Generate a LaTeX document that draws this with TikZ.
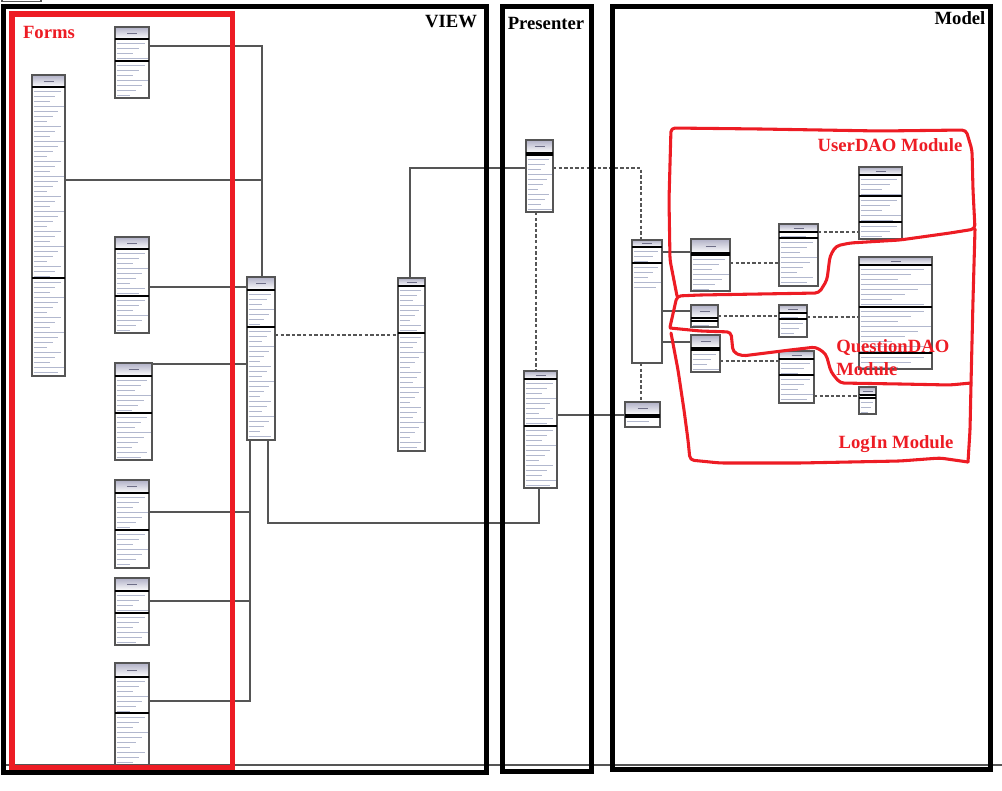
\documentclass[tikz,border=0pt]{standalone}
\usepackage{fontspec}
\setmainfont{Liberation Serif}
\usetikzlibrary{fit}
\definecolor{hdrtop}{RGB}{176,176,198}
\definecolor{boxgray}{RGB}{85,85,85}
\definecolor{txtc}{RGB}{178,184,206}
\definecolor{ttlc}{RGB}{110,110,135}
\definecolor{redc}{RGB}{237,28,36}

\newcommand\clsrows[4]{%
  \pgfmathsetmacro\rA{#3+4}%
  \pgfmathsetmacro\rE{#4-2}%
  \pgfmathsetmacro\rB{\rA+5}%
  \ifdim\rE pt<\rA pt\relax\else
    \ifdim\rE pt<\rB pt\relax
      \draw[txt] (#1+1.5,\rA) -- ++({(#2-#1-3)*0.7},0);
    \else
      \foreach \yy [count=\k] in {\rA,\rB,...,\rE}{%
        \pgfmathsetmacro\ll{(#2-#1-3)*(0.45+0.55*mod(\k*5,7)/6)}%
        \draw[txt] (#1+1.5,\yy) -- ++(\ll,0);
      }%
    \fi
  \fi
}
% name x1 y1 x2 y2 headerbottom sep1 sep2 rowend
\newcommand\umlcls[9]{%
  \shade[top color=hdrtop,bottom color=white] (#2,#3) rectangle (#4,#6);
  \pgfmathsetmacro\cx{(#2+#4)/2}\pgfmathsetmacro\cy{(#3+#6)/2}%
  \draw[ttl] (\cx-5,\cy) -- (\cx+5,\cy);
  \clsrows{#2}{#4}{#6}{#7}%
  \ifnum#8>0 \clsrows{#2}{#4}{#7}{#8}\clsrows{#2}{#4}{#8}{#9}\else\clsrows{#2}{#4}{#7}{#9}\fi
  \node[clsbox,fit={(#2,#3)(#4,#5)}] (#1) {};
  \draw[sepl] (#2,#6) -- (#4,#6);
  \draw[sepl] (#2,#7) -- (#4,#7);
  \ifnum#8>0 \draw[sepl] (#2,#8) -- (#4,#8);\fi
}

\begin{document}
\begin{tikzpicture}[x=0.75pt,y=-0.75pt,
  frame/.style={draw=black,line width=3.75pt},
  formsframe/.style={draw=redc,line width=3.9pt},
  clsbox/.style={draw=boxgray,line width=1.1pt,inner sep=0pt,outer sep=0pt},
  sepl/.style={draw=black,line width=1.5pt},
  txt/.style={draw=txtc,line width=0.7pt},
  ttl/.style={draw=ttlc,line width=0.7pt},
  conn/.style={draw=boxgray,line width=0.8pt},
  dconn/.style={conn,dash pattern=on 2.6pt off 1.6pt},
  redpen/.style={draw=redc,line width=2.3pt,line cap=round,line join=round,rounded corners=3pt},
  lbl/.style={font=\fontsize{14}{16}\selectfont\bfseries,inner sep=0pt},
  rlbl/.style={lbl,text=redc}]
\useasboundingbox (0,0) rectangle (1002,791);

% bottom gray line and tiny top-left box
\draw[conn,line width=1.1pt] (5,765) -- (1002,765);
\draw[conn] (2,-3) rectangle (41,1.5);

% ---- classes ----
\umlcls{A}{115}{27}{149}{98}{39}{61}{0}{98}
\umlcls{B}{32}{75}{65}{376}{87}{278}{0}{376}
\umlcls{C}{115}{237}{149}{333}{249}{296}{0}{333}
\umlcls{D}{115}{363}{152}{460}{376}{413}{0}{460}
\umlcls{E}{115}{480}{149}{568}{493}{530}{0}{568}
\umlcls{F}{115}{578}{149}{645}{591}{613}{0}{645}
\umlcls{G}{115}{663}{149}{765}{677}{713}{0}{765}
\umlcls{H}{247}{277}{275}{440}{290}{327}{0}{440}
\umlcls{I}{398}{278}{425}{451}{286}{333}{0}{451}
\umlcls{J}{526}{140}{553}{212}{153}{155}{0}{212}
\umlcls{K}{524}{371}{557}{488}{379}{426}{0}{488}
\umlcls{L}{632}{240}{662}{363}{247}{263}{0}{290}
\umlcls{M}{625}{402}{660}{427}{415}{417}{0}{427}
\umlcls{N}{691}{239}{730}{291}{253}{255}{0}{291}
\umlcls{O}{691}{305}{718}{327}{318}{321}{0}{327}
\umlcls{P}{691}{335}{720}{372}{348}{350}{0}{372}
\umlcls{Q}{779}{224}{818}{286}{232}{238}{0}{286}
\umlcls{R}{779}{305}{807}{337}{313}{319}{0}{337}
\umlcls{S}{779}{351}{814}{403}{359}{375}{0}{403}
\umlcls{T}{859}{167}{902}{239}{175}{196}{222}{239}
\umlcls{U}{859}{257}{932}{369}{265}{307}{353}{369}
\umlcls{V}{859}{387}{876}{414}{395}{398}{0}{414}

% ---- connectors ----
\coordinate (jAB) at (262,180);
\coordinate (jF) at (250,601);
\draw[conn] (A.east |- 0,46) -| (H.north -| 262,0);
\draw[conn] (B.east |- jAB) -- (jAB);
\draw[conn] (C.east |- 0,287) -- (H.west |- 0,287);
\draw[conn] (D.east |- 0,364) -- (H.west |- 0,364);
\draw[conn] (E.east |- 0,512) -| (H.south -| 250,0);
\draw[conn] (F.east |- jF) -- (jF);
\draw[conn] (G.east |- 0,701) -| (H.south -| 250,0);
\draw[conn] (H.south -| 268,0) -- ++(0,83) -| (K.south -| 539,0);
\draw[conn] (I.north -| 410,0) |- (J.west |- 0,168);
\draw[dconn] (H.east |- 0,335) -- (I.west |- 0,335);
\draw[dconn] (J.east |- 0,168) -| (L.north -| 641,0);
\draw[dconn] (J.south -| 536,0) -- (K.north -| 536,0);
\draw[conn] (K.east |- 0,415) -- (M.west |- 0,415);
\draw[dconn] (L.south -| 641,0) -- (M.north -| 641,0);
\draw[conn] (L.east |- 0,252) -- (N.west |- 0,252);
\draw[conn] (L.east |- 0,311) -- (O.west |- 0,311);
\draw[conn] (L.east |- 0,342) -- (P.west |- 0,342);
\draw[dconn] (N.east |- 0,263) -- (Q.west |- 0,263);
\draw[dconn] (O.east |- 0,316) -- (R.west |- 0,316);
\draw[dconn] (P.east |- 0,361) -- (S.west |- 0,361);
\draw[dconn] (Q.east |- 0,232) -- (T.west |- 0,232);
\draw[dconn] (R.east |- 0,317) -- (U.west |- 0,317);
\draw[dconn] (S.east |- 0,396) -- (V.west |- 0,396);

% ---- frames ----
\draw[frame] (3.5,6.5) rectangle (486,772.5);
\draw[frame] (502,7) rectangle (591.5,771.5);
\draw[frame] (612.5,7) rectangle (990.5,769.5);
\draw[formsframe] (12,14) rectangle (232.5,767.5);

% ---- hand-drawn module outlines ----
\draw[redpen] (677,296) -- (670,260) -- (669,200) -- (671,128) -- (760,129) -- (880,131) -- (966,130)
  -- (972,150) -- (973,190) -- (975,229) -- (950,233) -- (900,240) -- (850,243) -- (836,246)
  -- (830,256) -- (827,280) -- (819,293) -- (760,294) -- (700,295) -- (677,296) -- (670,327);
\draw[redpen] (670,328) -- (700,331) -- (731,332) -- (733,352) -- (742,356) -- (790,350) -- (816,347)
  -- (826,354) -- (831,372) -- (840,383) -- (900,384) -- (950,385) -- (971,383);
\draw[redpen] (975,229) -- (973,300) -- (971,384) -- (970,430) -- (968,462);
\draw[redpen] (671,333) -- (678,370) -- (684,410) -- (688,440) -- (690,460) -- (720,463)
  -- (800,463) -- (900,461) -- (940,458) -- (968,462);

% ---- labels ----
\node[rlbl] (tForms) at (49,32) {Forms};
\node[lbl] (tView) at (451,22) {VIEW};
\node[lbl] (tPres) at (546,23) {Presenter};
\node[lbl] (tModel) at (960,18) {Model};
\node[rlbl] (tUser) at (890,145) {UserDAO Module};
\node[rlbl,anchor=west] (tQ1) at (836,348) {QuestionDAO};
\node[rlbl,anchor=west] (tQ2) at (836,369) {Module};
\node[rlbl] (tLog) at (896,444) {LogIn Module};
\end{tikzpicture}
\end{document}
